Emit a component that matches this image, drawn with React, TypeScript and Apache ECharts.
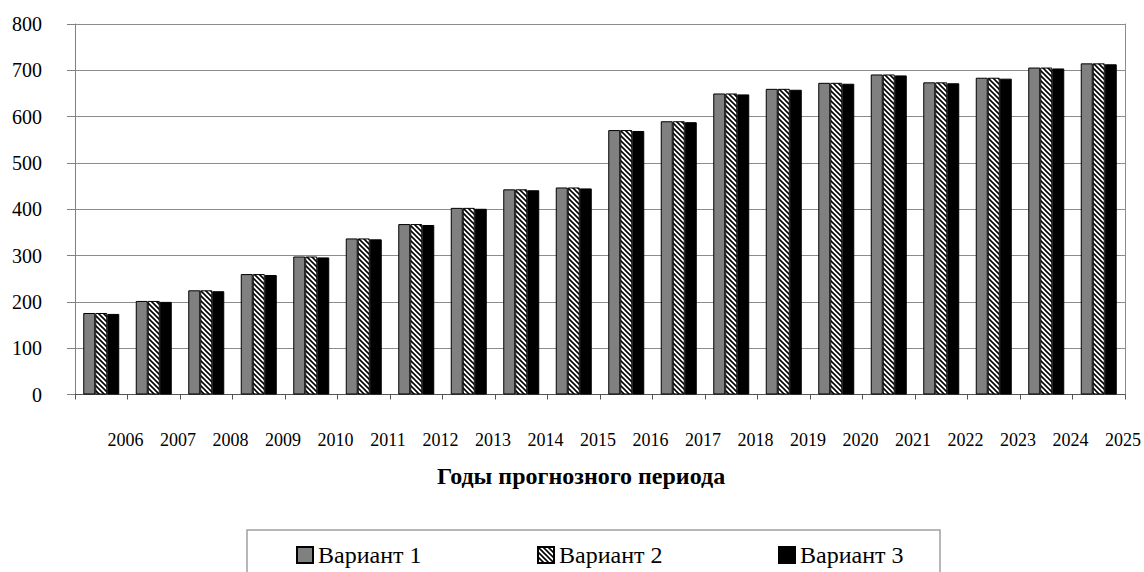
import React, { useEffect, useRef } from "react";
import * as echarts from "echarts";

const years = ["2006","2007","2008","2009","2010","2011","2012","2013","2014","2015","2016","2017","2018","2019","2020","2021","2022","2023","2024","2025"];
const variant1 = [176, 202, 225, 260, 298, 337, 368, 403, 443, 447, 571, 590, 650, 660, 673, 691, 674, 684, 706, 715];
const variant2 = [176, 202, 225, 260, 298, 337, 368, 403, 443, 447, 571, 590, 650, 660, 673, 691, 674, 684, 706, 715];
const variant3 = [174, 200, 223, 258, 296, 335, 366, 401, 441, 445, 569, 588, 648, 658, 671, 689, 672, 682, 704, 713];
const seriesNames = ["Вариант 1", "Вариант 2", "Вариант 3"];
const yTicks = { min: 0, max: 800, interval: 100 };
const xTitle = "Годы прогнозного периода";

const FONT = "Liberation Serif";

function makeHatch(): HTMLCanvasElement {
  const c = document.createElement("canvas");
  const s = 5;
  c.width = s;
  c.height = s;
  const ctx = c.getContext("2d")!;
  ctx.fillStyle = "#ffffff";
  ctx.fillRect(0, 0, s, s);
  ctx.strokeStyle = "#000000";
  ctx.lineWidth = 1.6;
  ctx.beginPath();
  ctx.moveTo(-1, -1);
  ctx.lineTo(s + 1, s + 1);
  ctx.moveTo(-1, s - 1);
  ctx.lineTo(1, s + 1);
  ctx.moveTo(s - 1, -1);
  ctx.lineTo(s + 1, 1);
  ctx.stroke();
  return c;
}

export default function App() {
  const ref = useRef<HTMLDivElement>(null);
  useEffect(() => {
    if (!ref.current) return;
    const chart = echarts.init(ref.current, null, { renderer: "svg" });
    const hatch = makeHatch();
    const legendBase = {
      top: 543,
      padding: 0,
      itemWidth: 16,
      itemHeight: 16,
      itemGap: 0,
      icon: "rect",
      textStyle: { fontFamily: FONT, fontSize: 24, color: "#000" },
    };
    const option: any = {
      animation: false,
      backgroundColor: "#ffffff",
      textStyle: { fontFamily: FONT },
      grid: { left: 75, right: 17, top: 24, bottom: 177.5, containLabel: false },
      title: {
        text: xTitle,
        left: 437,
        top: 464,
        padding: 0,
        textStyle: { fontFamily: FONT, fontSize: 24, fontWeight: "bold", color: "#000" },
      },
      legend: [
        { ...legendBase, left: 296, data: [seriesNames[0]] },
        { ...legendBase, left: 537, data: [seriesNames[1]] },
        { ...legendBase, left: 778, data: [seriesNames[2]] },
      ],
      graphic: [
        {
          type: "rect",
          shape: { x: 247, y: 530, width: 693, height: 80 },
          style: { fill: "none", stroke: "#a0a0a0", lineWidth: 1.5 },
          silent: true,
        },
      ],
      xAxis: [
        {
          type: "category",
          data: years,
          boundaryGap: true,
          axisLine: { show: true, lineStyle: { color: "#555", width: 1 } },
          axisTick: { show: true, inside: false, length: 5, lineStyle: { color: "#555" } },
          axisLabel: { show: false },
          splitLine: { show: false },
        },
        {
          type: "category",
          data: ["", ...years],
          boundaryGap: false,
          position: "bottom",
          axisLine: { show: false },
          axisTick: { show: false },
          axisLabel: {
            show: true,
            interval: 0,
            margin: 36,
            padding: [0, 4, 0, 0],
            fontFamily: FONT,
            fontSize: 18,
            color: "#000",
          },
        },
      ],
      yAxis: [
        {
          type: "value",
          min: yTicks.min,
          max: yTicks.max,
          interval: yTicks.interval,
          axisLine: { show: true, lineStyle: { color: "#808080", width: 1 } },
          axisTick: { show: true, inside: false, length: 8, lineStyle: { color: "#808080" } },
          axisLabel: { margin: 33, fontFamily: FONT, fontSize: 20, color: "#000" },
          splitLine: { show: true, lineStyle: { color: "#8c8c8c", width: 1 } },
        },
        {
          type: "value",
          position: "right",
          min: yTicks.min,
          max: yTicks.max,
          interval: yTicks.interval,
          axisLine: { show: true, lineStyle: { color: "#8c8c8c", width: 1 } },
          axisTick: { show: false },
          axisLabel: { show: false },
          splitLine: { show: false },
        },
      ],
      series: [
        {
          name: seriesNames[0],
          type: "bar",
          data: variant1,
          barWidth: 12,
          barGap: "0%",
          itemStyle: { color: "#808080", borderColor: "#000", borderWidth: 1 },
        },
        {
          name: seriesNames[1],
          type: "bar",
          data: variant2,
          barWidth: 12,
          barGap: "0%",
          itemStyle: {
            color: { image: hatch, repeat: "repeat" },
            borderColor: "#000",
            borderWidth: 1,
          },
        },
        {
          name: seriesNames[2],
          type: "bar",
          data: variant3,
          barWidth: 12,
          barGap: "0%",
          itemStyle: { color: "#000000", borderColor: "#000", borderWidth: 1 },
        },
      ],
    };
    chart.setOption(option);
    return () => chart.dispose();
  }, []);
  return (
    <div
      ref={ref}
      style={{ position: "fixed", left: 0, top: 0, width: 1144, height: 572, background: "#fff" }}
    />
  );
}
